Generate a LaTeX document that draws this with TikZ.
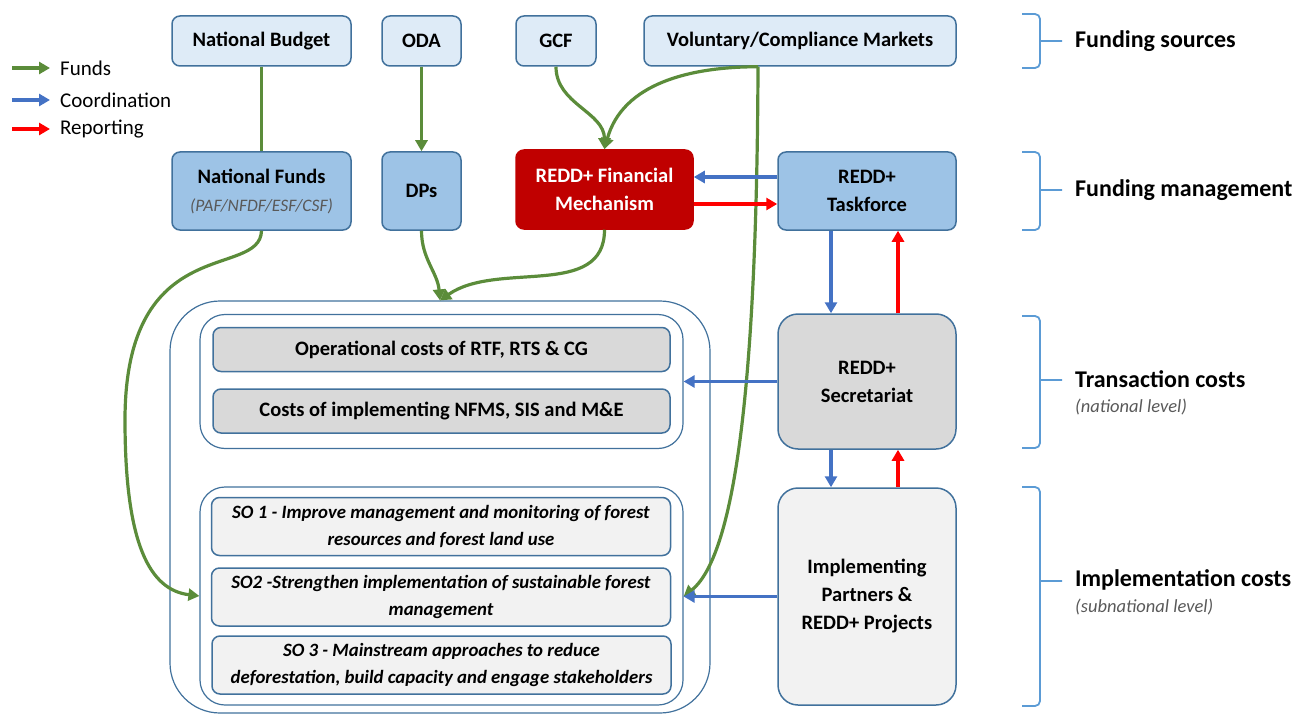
\documentclass[tikz,border=0pt]{standalone}
\usepackage{fontspec}
\setmainfont{Carlito}
\usetikzlibrary{arrows.meta}

\definecolor{fundgreen}{HTML}{5B8C3A}
\definecolor{coordblue}{HTML}{4472C4}
\definecolor{repred}{HTML}{FF0000}
\definecolor{lightblue}{HTML}{DEEBF7}
\definecolor{midblue}{HTML}{9DC3E6}
\definecolor{edgeblue}{HTML}{41719C}
\definecolor{mechred}{HTML}{C00000}
\definecolor{costgray}{HTML}{D9D9D9}
\definecolor{sogray}{HTML}{F2F2F2}
\definecolor{brkblue}{HTML}{5B9BD5}
\definecolor{subgray}{HTML}{595959}

\begin{document}
\begin{tikzpicture}[x=1pt,y=-1pt,
box/.style = {draw=edgeblue,line width=1.5pt,rounded corners=8pt,align=center,inner sep=0pt,
  font=\fontsize{20.5}{28}\selectfont\bfseries},
src/.style = {box,fill=lightblue,minimum height=50pt},
mgmt/.style = {box,fill=midblue,minimum height=78pt},
frame/.style = {draw=edgeblue,line width=1.2pt,rounded corners=25pt,inner sep=0pt},
costbox/.style = {box,fill=costgray,minimum width=457pt,minimum height=44pt},
sobox/.style = {box,fill=sogray,minimum width=459pt,minimum height=58pt,
  font=\fontsize{18.8}{27}\selectfont\bfseries\itshape},
funds/.style = {line width=3.2pt,fundgreen,-{Triangle[length=11pt,width=12pt]}},
coord/.style = {line width=3.2pt,coordblue,-{Triangle[length=11pt,width=12pt]}},
report/.style = {line width=3.2pt,repred,-{Triangle[length=11pt,width=12pt]}},
brk/.style = {line width=1.8pt,brkblue,rounded corners=5pt},
lvl/.style = {anchor=west,inner sep=0pt,font=\fontsize{24}{28}\selectfont\bfseries},
lvlsub/.style = {anchor=west,inner sep=0pt,text=subgray,font=\fontsize{18.5}{22}\selectfont\itshape},
legtext/.style = {anchor=west,inner sep=0pt,font=\fontsize{21}{25}\selectfont}
]
  \useasboundingbox (0,0) rectangle (1298,714);

  % legend
  \foreach \lbl/\sty/\yy in {Funds/funds/68, Coordination/coord/100, Reporting/report/129} {
    \node[legtext] (leg\lbl) at (60,\yy) {\lbl};
    \draw[\sty] ([xshift=-48pt]leg\lbl.west) -- ([xshift=-10pt]leg\lbl.west);
  }

  % funding sources
  \node[src, minimum width=179pt] (nb) at (261.5,41) {National Budget};
  \node[src, minimum width=79pt] (oda) at (421.5,41) {ODA};
  \node[src, minimum width=80pt] (gcf) at (556,41) {GCF};
  \node[src, minimum width=312pt] (vcm) at (800,41) {Voluntary/Compliance Markets};

  % funding management
  \node[mgmt, minimum width=179pt] (nf) at (261.5,191)
    {National Funds\\[0pt]{\fontsize{17.5}{20}\selectfont\mdseries\itshape\color{subgray}(PAF/NFDF/ESF/CSF)}};
  \node[mgmt, minimum width=79pt] (dps) at (421.5,191) {DPs};
  \node[box, fill=mechred, draw=mechred, text=white, minimum width=177pt, minimum height=79pt] (fm)
    at (604.5,189.5) {REDD+ Financial\\Mechanism};
  \node[mgmt, minimum width=178pt] (tf) at (867,191) {REDD+\\Taskforce};

  % costs
  \node[frame, rounded corners=50pt, minimum width=540pt, minimum height=412pt] (costs) at (440,507) {};
  \node[frame, minimum width=483pt, minimum height=134pt] (trans) at (441.5,381.5) {};
  \node[frame, minimum width=483pt, minimum height=218pt] (impl) at (441.5,596) {};
  \node[costbox] (op) at (441.5,349.5) {Operational costs of RTF, RTS \& CG};
  \node[costbox] (ce) at (441.5,411) {Costs of implementing NFMS, SIS and M\&E};
  \node[sobox] (so1) at (441,526.5) {SO 1 - Improve management and monitoring of forest\\resources and forest land use};
  \node[sobox] (so2) at (441,597) {SO2 -Strengthen implementation of sustainable forest\\management};
  \node[sobox] (so3) at (441.5,665) {SO 3 - Mainstream approaches to reduce\\deforestation, build capacity and engage stakeholders};

  \node[box, fill=costgray, rounded corners=20pt, minimum width=178pt, minimum height=135pt] (sec)
    at (867,381.5) {REDD+\\Secretariat};
  \node[box, fill=sogray, rounded corners=20pt, minimum width=178pt, minimum height=217pt] (ip)
    at (867,596.5) {Implementing\\Partners \&\\REDD+ Projects};

  % levels
  \foreach \top/\bot/\mid in {14/68/41, 152/230/190, 316/448/380, 487/706/581}
    \draw[brk] (1022,\top) -- (1040,\top) -- (1040,\bot) -- (1022,\bot) (1040,\mid) -- (1062,\mid);
  \node[lvl] (lsrc) at (1075,41) {Funding sources};
  \node[lvl] (lmgmt) at (1075,190) {Funding management};
  \node[lvl] (ltrans) at (1075,379) {Transaction costs};
  \node[lvlsub] (ltranss) at (1075,407) {(national level)};
  \node[lvl] (limpl) at (1075,580) {Implementation costs};
  \node[lvlsub] (limpls) at (1075,607) {(subnational level)};

  % funds
  \coordinate (vsplit) at ([xshift=-42pt]vcm.south);
  \draw[funds,-] (nb) -- (nf);
  \draw[funds] (oda) -- (dps);
  \draw[funds] (gcf.south) to[out=-90,in=90] (fm.north);
  \draw[funds] (vsplit) to[out=180,in=75] (fm.north);
  \draw[funds] (vsplit) .. controls (757,330) and (742,550) .. (ip.west -| impl.east);
  \draw[funds] (nf.south) .. controls (260,280) and (125,230) .. (125,420)
    .. controls (125,545) and (150,590) .. (impl.west);
  \draw[funds] (dps.south) to[out=-90,in=95] (costs.north);
  \draw[funds] (fm.south) to[out=-90,in=35] (costs.north);

  % coordination and reporting
  \coordinate (tfc) at ([yshift=14pt]tf.west);
  \coordinate (tfr) at ([yshift=-13pt]tf.west);
  \draw[coord] (tfc) -- (tfc -| fm.east);
  \draw[report] (tfr -| fm.east) -- (tfr);
  \draw[coord] ([xshift=-36pt]tf.south) -- ([xshift=-36pt]sec.north);
  \draw[report] ([xshift=31pt]sec.north) -- ([xshift=31pt]tf.south);
  \draw[coord] (sec.west) -- (sec.west -| trans.east);
  \draw[coord] ([xshift=-36pt]sec.south) -- ([xshift=-36pt]ip.north);
  \draw[report] ([xshift=31pt]ip.north) -- ([xshift=31pt]sec.south);
  \draw[coord] (ip.west) -- (ip.west -| impl.east);
\end{tikzpicture}
\end{document}
